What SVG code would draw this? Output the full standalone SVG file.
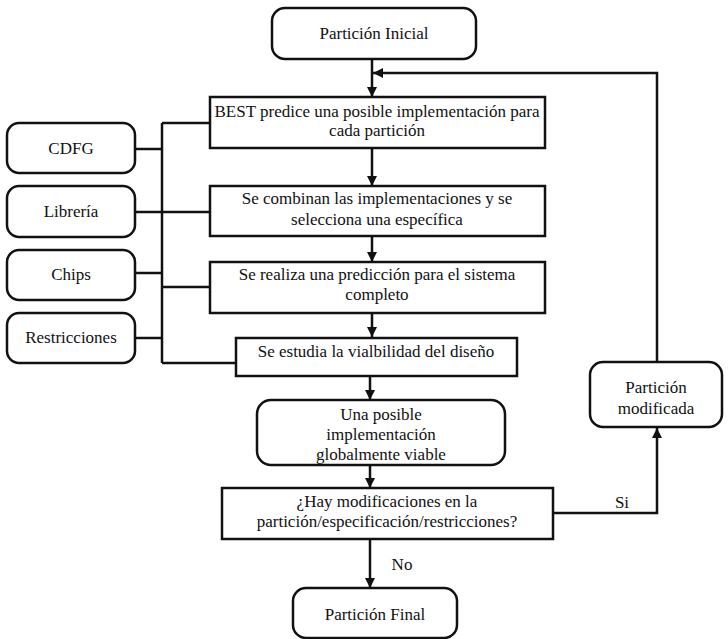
<svg xmlns="http://www.w3.org/2000/svg" width="728" height="639" viewBox="0 0 728 639">
<style>
.box{fill:#fff;stroke:#111;stroke-width:2.5}
.ln{fill:none;stroke:#111;stroke-width:2.5}
text{font-family:'Liberation Serif','Times New Roman',serif;font-size:17px;fill:#111;text-anchor:middle}
</style>
<defs>
<marker id="ah" viewBox="0 0 10 10" refX="10" refY="5" markerWidth="4" markerHeight="4" orient="auto" markerUnits="strokeWidth">
<path d="M0,0 L10,5 L0,10 z" fill="#111"/>
</marker>
</defs>
<rect width="728" height="639" fill="#fff"/>
<g id="connectors">
<path class="ln" d="M372,59 V97" marker-end="url(#ah)"/>
<path class="ln" d="M657,362 V73 H373" marker-end="url(#ah)"/>
<path class="ln" d="M372,148 V186" marker-end="url(#ah)"/>
<path class="ln" d="M372,236 V262" marker-end="url(#ah)"/>
<path class="ln" d="M372,313 V337" marker-end="url(#ah)"/>
<path class="ln" d="M370,376 V400" marker-end="url(#ah)"/>
<path class="ln" d="M370,465 V488" marker-end="url(#ah)"/>
<path class="ln" d="M370,539 V588" marker-end="url(#ah)"/>
<path class="ln" d="M553,513 H657 V428" marker-end="url(#ah)"/>
<path class="ln" d="M162,123 V363"/>
<path class="ln" d="M162,123 H210"/>
<path class="ln" d="M135,149 H162"/>
<path class="ln" d="M135,212 H210"/>
<path class="ln" d="M135,273 H162"/>
<path class="ln" d="M162,287 H210"/>
<path class="ln" d="M135,338 H162"/>
<path class="ln" d="M162,363 H236"/>
<text x="622" y="508">Si</text>
<text x="402" y="570">No</text>
</g>
<g id="particion-inicial">
<rect class="box" x="272" y="8" width="204" height="51" rx="13"/>
<text x="374" y="39">Partición Inicial</text>
</g>
<g id="best">
<rect class="box" x="210" y="97" width="335" height="51"/>
<text x="377" y="117">BEST predice una posible implementación para</text>
<text x="377" y="136">cada partición</text>
</g>
<g id="combinan">
<rect class="box" x="210" y="186" width="335" height="50"/>
<text x="377" y="204">Se combinan las implementaciones y se</text>
<text x="377" y="225">selecciona una específica</text>
</g>
<g id="prediccion">
<rect class="box" x="210" y="262" width="335" height="51"/>
<text x="377" y="280">Se realiza una predicción para el sistema</text>
<text x="377" y="300">completo</text>
</g>
<g id="viabilidad">
<rect class="box" x="236" y="338" width="281" height="38"/>
<text x="376" y="357">Se estudia la vialbilidad del diseño</text>
</g>
<g id="una-posible">
<rect class="box" x="257" y="400" width="248" height="65" rx="14"/>
<text x="381" y="420">Una posible</text>
<text x="381" y="440">implementación</text>
<text x="381" y="460">globalmente viable</text>
</g>
<g id="modificaciones">
<rect class="box" x="222" y="488" width="331" height="51"/>
<text x="387" y="507">¿Hay modificaciones en la</text>
<text x="387" y="527">partición/especificación/restricciones?</text>
</g>
<g id="particion-final">
<rect class="box" x="293" y="588" width="164" height="50" rx="13"/>
<text x="375" y="620">Partición Final</text>
</g>
<g id="particion-modificada">
<rect class="box" x="590" y="362" width="132" height="65" rx="13"/>
<text x="656" y="393">Partición</text>
<text x="656" y="414">modificada</text>
</g>
<g id="cdfg">
<rect class="box" x="7" y="123" width="128" height="50" rx="12"/>
<text x="71" y="154">CDFG</text>
</g>
<g id="libreria">
<rect class="box" x="7" y="186" width="128" height="51" rx="12"/>
<text x="71" y="217">Librería</text>
</g>
<g id="chips">
<rect class="box" x="7" y="250" width="128" height="50" rx="12"/>
<text x="71" y="280">Chips</text>
</g>
<g id="restricciones">
<rect class="box" x="7" y="313" width="128" height="50" rx="12"/>
<text x="71" y="343">Restricciones</text>
</g>
</svg>
